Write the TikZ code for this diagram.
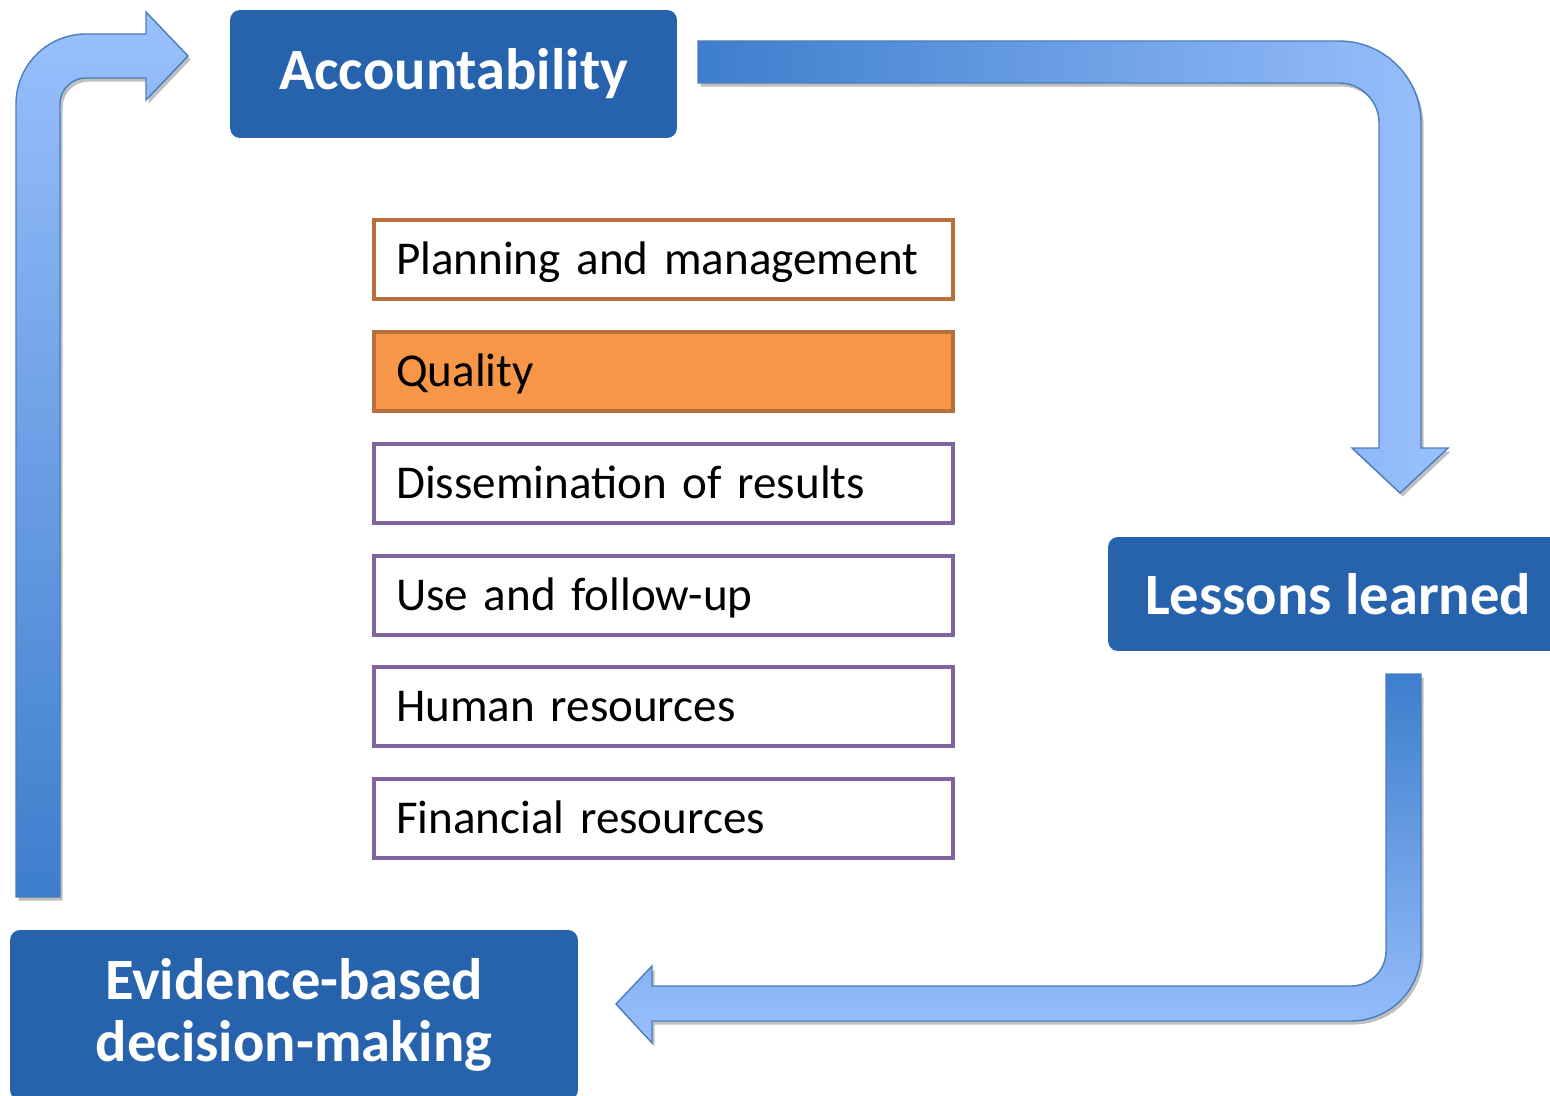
\documentclass[tikz,border=0pt]{standalone}
\usepackage{fontspec}
\setmainfont{Carlito}
\usetikzlibrary{shadows}

\definecolor{boxblue}{RGB}{39,99,172}
\definecolor{itemorange}{RGB}{184,112,58}
\definecolor{qualityfill}{RGB}{247,150,70}
\definecolor{itempurple}{RGB}{128,100,162}
\definecolor{arrowdark}{RGB}{61,126,204}
\definecolor{arrowlight}{RGB}{154,192,254}
\definecolor{arrowedge}{RGB}{74,126,187}

\begin{document}
\begin{tikzpicture}[x=0.02cm, y=-0.02cm,
    bigbox/.style={fill=boxblue, rounded corners=0.2cm, text=white, align=center,
      font=\fontsize{33.3}{35}\selectfont\bfseries},
    listbox/.style={draw=itempurple, line width=2.2pt, fill=white, minimum height=1.58cm,
      text width=10.7cm, inner xsep=0.44cm, align=left, text height=20pt, text depth=3pt,
      font=\fontsize{26.8}{28}\selectfont},
    barrow/.style={draw=arrowedge, line width=0.8pt,
      drop shadow={shadow xshift=1.5pt, shadow yshift=-2pt, opacity=0.25, fill=black}}]
        \clip (0,0) rectangle (1550,1095);

        % the three main boxes
        \node[bigbox, minimum width=8.94cm, minimum height=2.56cm] (acc) at (453.5,74) {Accountability};
        \node[bigbox, minimum width=9.2cm, minimum height=2.28cm] (lessons) at (1338,594) {Lessons learned};
        \node[bigbox, minimum width=11.36cm, minimum height=3.4cm] (evid) at (294,1015) {Evidence-based\\decision-making};

        % list in the middle
        \node[listbox, draw=itemorange] (plan) at (663.5,259.5) {Planning and management};
        \node[listbox, draw=itemorange, fill=qualityfill] (qual) at (663.5,371.5) {Quality};
        \node[listbox] (dissem) at (663.5,483.5) {Dissemination of results};
        \node[listbox] (use) at (663.5,595.5) {Use and follow-up};
        \node[listbox] (human) at (663.5,706.5) {Human resources};
        \node[listbox] (fin) at (663.5,818.5) {Financial resources};

        % evidence -> accountability
        \draw[barrow, bottom color=arrowdark, top color=arrowlight]
          (16,897) -- (16,104) arc[start angle=180, end angle=270, radius=70]
          -- (146,34) -- (146,12) -- (188,56) -- (146,100) -- (146,78) -- (86,78)
          arc[start angle=270, end angle=180, radius=26] -- (60,897) -- cycle;

        % accountability -> lessons learned
        \draw[barrow, left color=arrowdark, right color=arrowlight]
          (698,41) -- (1339,41) arc[start angle=270, end angle=360, radius=82]
          -- (1421,448) -- (1448,448) -- (1400,493) -- (1352,448) -- (1379,448) -- (1379,123)
          arc[start angle=0, end angle=-90, radius=40] -- (698,83) -- cycle;

        % lessons learned -> evidence
        \draw[barrow, top color=arrowdark, bottom color=arrowlight]
          (1386,674) -- (1421,674) -- (1421,951) arc[start angle=0, end angle=90, radius=70]
          -- (652,1021) -- (652,1043) -- (616,1004) -- (652,966) -- (652,986) -- (1351,986)
          arc[start angle=90, end angle=0, radius=35] -- cycle;
      \end{tikzpicture}
\end{document}
